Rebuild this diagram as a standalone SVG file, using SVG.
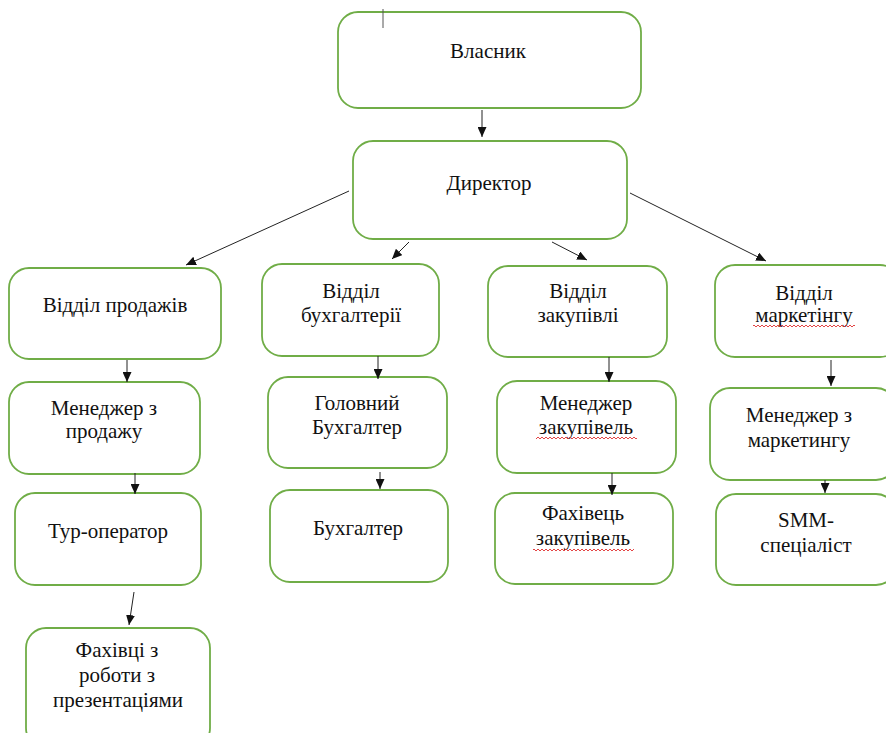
<svg xmlns="http://www.w3.org/2000/svg" width="886" height="733" viewBox="0 0 886 733">
<style>
.box{fill:#fff;stroke:#70AD47;stroke-width:1.8}
.c{stroke:#222;stroke-width:1;fill:none;marker-end:url(#ah)}
.w{fill:url(#wave)}
</style>
<defs>
<marker id="ah" markerUnits="userSpaceOnUse" markerWidth="11" markerHeight="9" refX="10" refY="4.5" orient="auto">
<path d="M0,0 L10,4.5 L0,9 z" fill="#111"/>
</marker>
<pattern id="wave" patternUnits="userSpaceOnUse" width="4" height="4">
<path d="M0,3 L2,1 L4,3" stroke="#e03030" stroke-width="0.9" fill="none"/>
</pattern>
</defs>
<rect width="886" height="733" fill="#fff"/>
<g id="nodes" font-family="Times New Roman" font-size="21" fill="#111" text-anchor="middle">
<g id="n-vlasnyk"><rect class="box" x="338" y="12" width="303" height="96" rx="20"/><text font-family="Times New Roman" x="488" y="58">Власник</text></g>
<g id="n-dyrektor"><rect class="box" x="353" y="141" width="274" height="98" rx="20"/><text font-family="Times New Roman" x="489" y="190">Директор</text></g>
<g id="n-prodazh"><rect class="box" x="9" y="268" width="212" height="91" rx="20"/><text font-family="Times New Roman" x="115" y="312">Відділ продажів</text></g>
<g id="n-bukh"><rect class="box" x="262" y="264" width="177" height="92" rx="20"/><text font-family="Times New Roman" x="351" y="298">Відділ</text><text font-family="Times New Roman" x="351" y="322">бухгалтерії</text></g>
<g id="n-zakup"><rect class="box" x="488" y="266" width="179" height="91" rx="20"/><text font-family="Times New Roman" x="578" y="298">Відділ</text><text font-family="Times New Roman" x="578" y="322">закупівлі</text></g>
<g id="n-market"><rect class="box" x="715" y="265" width="185" height="92" rx="20"/><text font-family="Times New Roman" x="804" y="300">Відділ</text><text font-family="Times New Roman" x="804" y="322">маркетінгу</text><rect class="w" x="753" y="323" width="102" height="4"/></g>
<g id="n-men-prod"><rect class="box" x="9" y="382" width="191" height="92" rx="20"/><text font-family="Times New Roman" x="104" y="415">Менеджер з</text><text font-family="Times New Roman" x="104" y="438">продажу</text></g>
<g id="n-holov-bukh"><rect class="box" x="268" y="377" width="179" height="91" rx="20"/><text font-family="Times New Roman" x="357" y="410">Головний</text><text font-family="Times New Roman" x="357" y="434">Бухгалтер</text></g>
<g id="n-men-zakup"><rect class="box" x="497" y="381" width="179" height="92" rx="20"/><text font-family="Times New Roman" x="586" y="410">Менеджер</text><text font-family="Times New Roman" x="586" y="434">закупівель</text><rect class="w" x="536" y="435" width="101" height="4"/></g>
<g id="n-men-market"><rect class="box" x="710" y="388" width="186" height="92" rx="20"/><text font-family="Times New Roman" x="799" y="422">Менеджер з</text><text font-family="Times New Roman" x="799" y="447">маркетингу</text></g>
<g id="n-tur"><rect class="box" x="15" y="493" width="186" height="92" rx="20"/><text font-family="Times New Roman" x="108" y="538">Тур-оператор</text></g>
<g id="n-bukhgalter"><rect class="box" x="270" y="490" width="178" height="92" rx="20"/><text font-family="Times New Roman" x="358" y="535">Бухгалтер</text></g>
<g id="n-fakh-zakup"><rect class="box" x="495" y="493" width="178" height="91" rx="20"/><text font-family="Times New Roman" x="583" y="520">Фахівець</text><text font-family="Times New Roman" x="583" y="545">закупівель</text><rect class="w" x="533" y="547" width="101" height="4"/></g>
<g id="n-smm"><rect class="box" x="716" y="494" width="180" height="91" rx="20"/><text font-family="Times New Roman" x="806" y="527">SMM-</text><text font-family="Times New Roman" x="806" y="552">спеціаліст</text></g>
<g id="n-fakh-prez"><rect class="box" x="26" y="628" width="184" height="120" rx="20"/><text font-family="Times New Roman" x="117" y="657">Фахівці з</text><text font-family="Times New Roman" x="117" y="682">роботи з</text><text font-family="Times New Roman" x="118" y="707">презентаціями</text></g>
</g>
<g id="connectors">
<line x1="383" y1="9" x2="383" y2="28" stroke="#555" stroke-width="1"/>
<line class="c" x1="482" y1="110" x2="482" y2="137"/>
<line class="c" x1="349" y1="191" x2="186" y2="265"/>
<line class="c" x1="409" y1="242" x2="392" y2="259"/>
<line class="c" x1="552" y1="242" x2="587" y2="260"/>
<line class="c" x1="630" y1="193" x2="766" y2="261"/>
<line class="c" x1="127" y1="360" x2="127" y2="382"/>
<line class="c" x1="378" y1="356" x2="378" y2="379"/>
<line class="c" x1="609" y1="357" x2="609" y2="382"/>
<line class="c" x1="831" y1="360" x2="831" y2="386"/>
<line class="c" x1="135" y1="473" x2="135" y2="494"/>
<line class="c" x1="380" y1="472" x2="380" y2="489"/>
<line class="c" x1="612" y1="473" x2="612" y2="495"/>
<line class="c" x1="825" y1="480" x2="825" y2="493"/>
<line class="c" x1="134" y1="592" x2="129" y2="625"/>
</g>
</svg>
